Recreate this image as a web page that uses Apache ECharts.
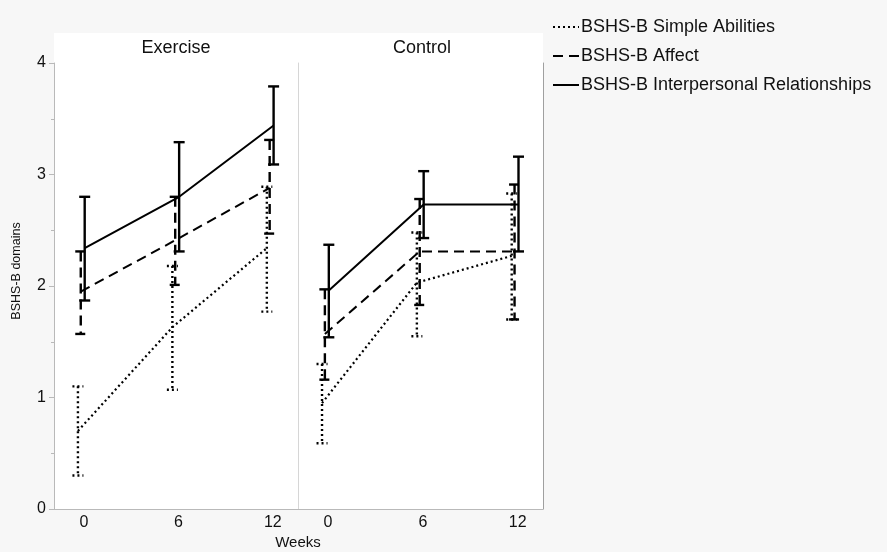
<!DOCTYPE html>
<html>
<head>
<meta charset="utf-8">
<script src="https://cdn.jsdelivr.net/npm/echarts@6/dist/echarts.min.js"></script>
<style>
  html, body { margin: 0; padding: 0; background: #f7f7f7; }
  #chart { width: 887px; height: 552px; }
</style>
</head>
<body>
<div id="chart"></div>
<script>
// ---- data ----
var weeks = [0, 6, 12];
var groups = ['Exercise', 'Control'];
var domains = ['BSHS-B Simple Abilities', 'BSHS-B Affect', 'BSHS-B Interpersonal Relationships'];
var yTicks = [0, 1, 2, 3, 4];

// Exercise: mean / lower / upper of the error bar
var exSimpleMean = [0.70, 1.63, 2.34];
var exSimpleLow  = [0.30, 1.07, 1.77];
var exSimpleHigh = [1.10, 2.18, 2.89];
var exAffectMean = [1.95, 2.41, 2.88];
var exAffectLow  = [1.57, 2.01, 2.47];
var exAffectHigh = [2.31, 2.80, 3.31];
var exInterMean  = [2.34, 2.80, 3.44];
var exInterLow   = [1.87, 2.31, 3.09];
var exInterHigh  = [2.80, 3.29, 3.79];

// Control
var ctSimpleMean = [0.95, 2.03, 2.27];
var ctSimpleLow  = [0.59, 1.55, 1.70];
var ctSimpleHigh = [1.30, 2.48, 2.83];
var ctAffectMean = [1.57, 2.31, 2.31];
var ctAffectLow  = [1.16, 1.83, 1.70];
var ctAffectHigh = [1.97, 2.78, 2.91];
var ctInterMean  = [1.96, 2.73, 2.73];
var ctInterLow   = [1.54, 2.43, 2.31];
var ctInterHigh  = [2.37, 3.03, 3.16];

(function () {
    var myChart = echarts.init(document.getElementById('chart'));

    var FONT = '"Liberation Sans", Arial, sans-serif';
    // line style of each domain, and small side shift so the bars don't overlap
    var dashes = [[2, 3], [10, 6], null];
    var widths = [2.2, 2, 2];
    var dodge = [-0.38, -0.2, 0.05];

    var panels = [
        [[exSimpleMean, exSimpleLow, exSimpleHigh], [exAffectMean, exAffectLow, exAffectHigh], [exInterMean, exInterLow, exInterHigh]],
        [[ctSimpleMean, ctSimpleLow, ctSimpleHigh], [ctAffectMean, ctAffectLow, ctAffectHigh], [ctInterMean, ctInterLow, ctInterHigh]]
    ];

    function errorBar(dash) {
        return function (params, api) {
            var top = api.coord([api.value(0), api.value(2)]);
            var bot = api.coord([api.value(0), api.value(1)]);
            var half = 5.5;
            var style = { stroke: '#000', lineWidth: 2.4, lineDash: dash, fill: null };
            return {
                type: 'group',
                children: [
                    { type: 'line', shape: { x1: top[0], y1: top[1], x2: bot[0], y2: bot[1] }, style: style },
                    { type: 'line', shape: { x1: top[0] - half, y1: top[1], x2: top[0] + half, y2: top[1] }, style: style },
                    { type: 'line', shape: { x1: bot[0] - half, y1: bot[1], x2: bot[0] + half, y2: bot[1] }, style: style }
                ]
            };
        };
    }

    var series = [];
    panels.forEach(function (panel, g) {
        panel.forEach(function (d, k) {
            var mean = d[0], low = d[1], high = d[2];
            series.push({
                name: domains[k],
                type: 'line',
                xAxisIndex: g,
                yAxisIndex: g,
                symbol: 'none',
                z: 3,
                lineStyle: { color: '#000', width: widths[k], type: dashes[k] || 'solid' },
                itemStyle: { color: '#000' },
                data: weeks.map(function (w, i) { return [w + dodge[k], mean[i]]; })
            });
            series.push({
                name: domains[k] + ' err',
                type: 'custom',
                xAxisIndex: g,
                yAxisIndex: g,
                z: 4,
                renderItem: errorBar(dashes[k]),
                encode: { x: 0, y: [1, 2] },
                data: weeks.map(function (w, i) { return [w + dodge[k], low[i], high[i]]; })
            });
        });
    });

    var xAxisBase = {
        type: 'value',
        min: -1.9,
        max: 13.6,
        axisLine: { lineStyle: { color: '#b9b9b9', width: 1 } },
        axisTick: { show: false },
        splitLine: { show: false },
        axisLabel: { customValues: weeks, color: '#111', fontSize: 16, fontFamily: FONT, margin: 6 }
    };

    var option = {
        backgroundColor: '#f7f7f7',
        animation: false,
        textStyle: { fontFamily: FONT },
        graphic: [
            { type: 'rect', z: -10, shape: { x: 54, y: 33, width: 489, height: 476 }, style: { fill: '#fff' } },
            { type: 'text', x: 176, y: 48, style: { text: groups[0], font: '18px ' + FONT, fill: '#111', textAlign: 'center', textVerticalAlign: 'middle' } },
            { type: 'text', x: 422, y: 48, style: { text: groups[1], font: '18px ' + FONT, fill: '#111', textAlign: 'center', textVerticalAlign: 'middle' } },
            { type: 'text', x: 298, y: 543, style: { text: 'Weeks', font: '15px ' + FONT, fill: '#111', textAlign: 'center', textVerticalAlign: 'middle' } },
            { type: 'text', x: 17, y: 271, rotation: Math.PI / 2, style: { text: 'BSHS-B domains', font: '12.5px ' + FONT, fill: '#111', textAlign: 'center', textVerticalAlign: 'middle' } }
        ],
        legend: {
            orient: 'vertical',
            left: 547,
            top: 13,
            itemWidth: 26,
            itemHeight: 14,
            itemGap: 11,
            data: domains,
            itemStyle: { opacity: 0 },
            textStyle: { color: '#111', fontSize: 18, fontFamily: FONT, padding: [0, 0, 0, -3] }
        },
        grid: [
            { left: 54, top: 63, width: 244, height: 446 },
            { left: 298, top: 63, width: 245, height: 446 }
        ],
        xAxis: [
            Object.assign({ gridIndex: 0 }, xAxisBase),
            Object.assign({ gridIndex: 1 }, xAxisBase)
        ],
        yAxis: [
            {
                gridIndex: 0, type: 'value', min: 0, max: 4, interval: 1,
                axisLine: { show: true, onZero: false, lineStyle: { color: '#b9b9b9' } },
                axisTick: { show: true, length: 5, lineStyle: { color: '#b9b9b9' } },
                minorTick: { show: true, splitNumber: 2, length: 3, lineStyle: { color: '#b9b9b9' } },
                splitLine: { show: false },
                axisLabel: { customValues: yTicks, color: '#111', fontSize: 16, fontFamily: FONT, margin: 8 }
            },
            {
                gridIndex: 1, type: 'value', min: 0, max: 4,
                axisLine: { show: true, onZero: false, lineStyle: { color: '#d6d6d6' } },
                axisTick: { show: false }, axisLabel: { show: false }, splitLine: { show: false }
            },
            {
                gridIndex: 1, type: 'value', min: 0, max: 4, position: 'right',
                axisLine: { show: true, onZero: false, lineStyle: { color: '#a0a0a0' } },
                axisTick: { show: false }, axisLabel: { show: false }, splitLine: { show: false }
            }
        ],
        series: series
    };

    myChart.setOption(option);

    window.addEventListener('resize', function () {
        myChart.resize();
    });
})();
</script>
</body>
</html>
